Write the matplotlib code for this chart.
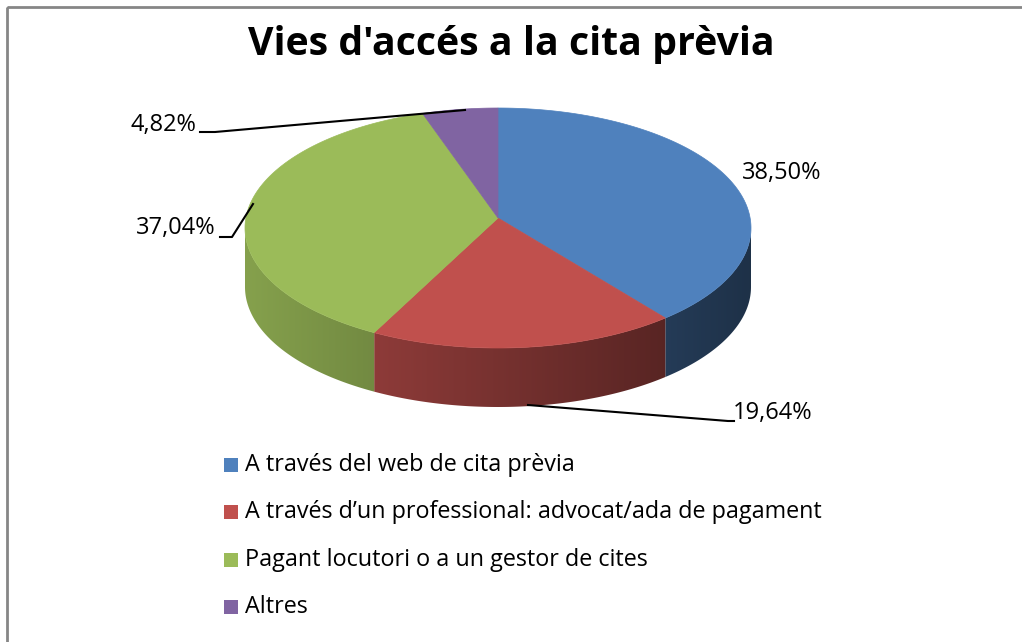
import numpy as np
import matplotlib
matplotlib.use('Agg')
import matplotlib.pyplot as plt
from matplotlib.patches import Polygon, Rectangle

# data
labels = ['A través del web de cita prèvia',
          'A través d\u2019un professional: advocat/ada de pagament',
          'Pagant locutori o a un gestor de cites',
          'Altres']
values = [38.50, 19.64, 37.04, 4.82]
pct_labels = ['38,50%', '19,64%', '37,04%', '4,82%']
colors = ['#4F81BD', '#C0504D', '#9BBB59', '#8064A2']
title = "Vies d'accés a la cita prèvia"

# geometry of the 3d pie (pixel coords, y down)
cx, cy = 498, 228
rx, ry = 253, 120
vx, vy = 498, 218
depth = 59

fig = plt.figure(figsize=(10.22, 6.42), dpi=100)
ax = fig.add_axes([0, 0, 1, 1])
ax.set_xlim(0, 1022)
ax.set_ylim(642, 0)
ax.axis('off')

# outer border of the chart area
ax.add_patch(Rectangle((7, 7), 1040, 660, fill=False, edgecolor='#868686', linewidth=2))


def ellipse_pt(theta, dy=0):
    # theta in degrees, clockwise from 12 o'clock
    t = np.radians(theta)
    return cx + rx * np.sin(t), cy - ry * np.cos(t) + dy


fracs = np.array(values) / sum(values) * 360
starts = np.concatenate([[0], np.cumsum(fracs)[:-1]])
ends = np.cumsum(fracs)

# shaded sides (only the front half is visible)
x0, x1 = cx - rx, cx + rx
xs = np.linspace(x0, x1, 300)
shade = 0.86 - (xs - x0) / (x1 - x0) * 0.48
for s, e, c in zip(starts, ends, colors):
    a, b = max(s, 90), min(e, 270)
    if a >= b:
        continue
    th = np.linspace(a, b, 120)
    tx, ty = ellipse_pt(th)
    bx, by = ellipse_pt(th[::-1], depth)
    poly = Polygon(np.column_stack([np.concatenate([tx, bx]), np.concatenate([ty, by])]),
                   closed=True, facecolor='none', edgecolor='none')
    ax.add_patch(poly)
    base = np.array(matplotlib.colors.to_rgb(c))
    img = (shade[None, :, None] * base[None, None, :])
    im = ax.imshow(img, extent=(x0, x1, cy + ry + depth + 2, cy - 5), aspect='auto',
                   interpolation='bilinear', zorder=1)
    im.set_clip_path(poly)

# top face
for s, e, c in zip(starts, ends, colors):
    th = np.linspace(s, e, 200)
    tx, ty = ellipse_pt(th)
    pts = np.column_stack([np.concatenate([[vx], tx]), np.concatenate([[vy], ty])])
    ax.add_patch(Polygon(pts, closed=True, facecolor=c, edgecolor=c, linewidth=0.5, zorder=2))

# percentage labels with leader lines
lab_font = dict(family='Open Sans', fontsize=17, color='black')
ax.text(782, 173, pct_labels[0], ha='center', va='center', **lab_font)
ax.text(773, 413, pct_labels[1], ha='center', va='center', **lab_font)
ax.text(176, 228, pct_labels[2], ha='center', va='center', **lab_font)
ax.text(163, 125, pct_labels[3], ha='center', va='center', **lab_font)
ax.plot([528, 728, 734], [405, 421, 421], color='black', lw=1.5, zorder=3)
ax.plot([220, 232, 253], [237, 237, 204], color='black', lw=1.5, zorder=3)
ax.plot([200, 215, 465], [132, 132, 110], color='black', lw=1.5, zorder=3)

# title
ax.text(511, 44, title, ha='center', va='center', family='Open Sans',
        fontweight='bold', fontsize=28.3)

# legend
leg_y = [465, 512, 560, 607]
for lab, c, y in zip(labels, colors, leg_y):
    ax.add_patch(Rectangle((224, y - 7), 14, 14, facecolor=c, edgecolor='none'))
    ax.text(245, y, lab, ha='left', va='center', family='Open Sans', fontsize=16.8)

fig.savefig('out.png', dpi=100)
